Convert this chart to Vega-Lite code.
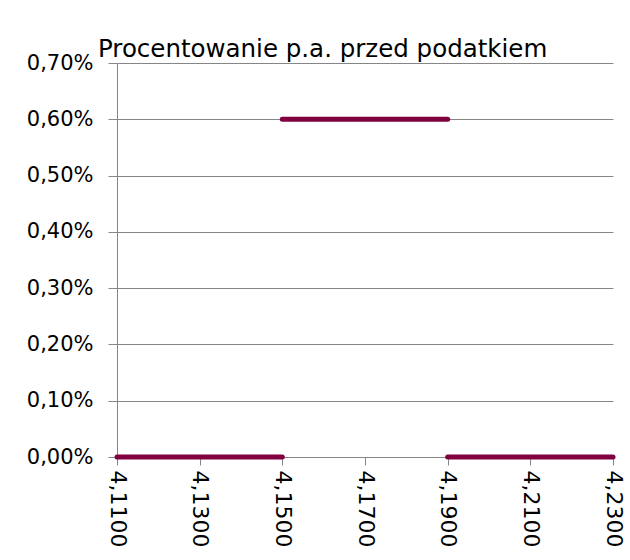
{
  "$schema": "https://vega.github.io/schema/vega-lite/v6.json",
  "width": 496,
  "height": 394,
  "autosize": {"type": "none"},
  "padding": {"left": 117, "top": 63, "right": 17, "bottom": 103},
  "background": "white",
  "config": {
    "locale": {"number": {"decimal": ",", "thousands": " ", "grouping": [3], "currency": ["", " zł"]}},
    "view": {"stroke": null},
    "font": "DejaVu Sans"
  },
  "title": {
    "text": "Procentowanie p.a. przed podatkiem",
    "font": "DejaVu Sans",
    "fontSize": 24.5,
    "fontWeight": "normal",
    "color": "#000000",
    "anchor": "start",
    "frame": "group",
    "dx": -19,
    "offset": -10
  },
  "data": {
    "values": [
      {"kurs": 4.11, "proc": 0.0, "seg": "a"},
      {"kurs": 4.15, "proc": 0.0, "seg": "a"},
      {"kurs": 4.15, "proc": 0.006, "seg": "b"},
      {"kurs": 4.19, "proc": 0.006, "seg": "b"},
      {"kurs": 4.19, "proc": 0.0, "seg": "c"},
      {"kurs": 4.23, "proc": 0.0, "seg": "c"}
    ]
  },
  "mark": {"type": "line", "color": "#800040", "strokeWidth": 5, "strokeCap": "round", "clip": false},
  "encoding": {
    "x": {
      "field": "kurs",
      "type": "quantitative",
      "scale": {"domain": [4.11, 4.23], "nice": false, "zero": false},
      "axis": {
        "title": null,
        "values": [4.11, 4.13, 4.15, 4.17, 4.19, 4.21, 4.23],
        "format": ".4f",
        "labelAngle": 90,
        "labelAlign": "left",
        "labelBaseline": "middle",
        "labelFont": "DejaVu Sans",
        "labelFontSize": 22,
        "labelColor": "#000000",
        "labelPadding": 5,
        "labelFlush": false,
        "labelOverlap": false,
        "tickSize": 8,
        "tickColor": "#868686",
        "domain": false,
        "grid": false
      }
    },
    "y": {
      "field": "proc",
      "type": "quantitative",
      "scale": {"domain": [0, 0.007], "nice": false},
      "axis": {
        "title": null,
        "values": [0, 0.001, 0.002, 0.003, 0.004, 0.005, 0.006, 0.007],
        "format": ".2%",
        "labelFont": "DejaVu Sans",
        "labelFontSize": 21,
        "labelColor": "#000000",
        "labelPadding": 15,
        "labelFlush": false,
        "tickSize": 9,
        "tickColor": "#868686",
        "domainColor": "#868686",
        "grid": true,
        "gridColor": "#868686",
        "gridOpacity": 1
      }
    },
    "detail": {"field": "seg", "type": "nominal"}
  }
}
